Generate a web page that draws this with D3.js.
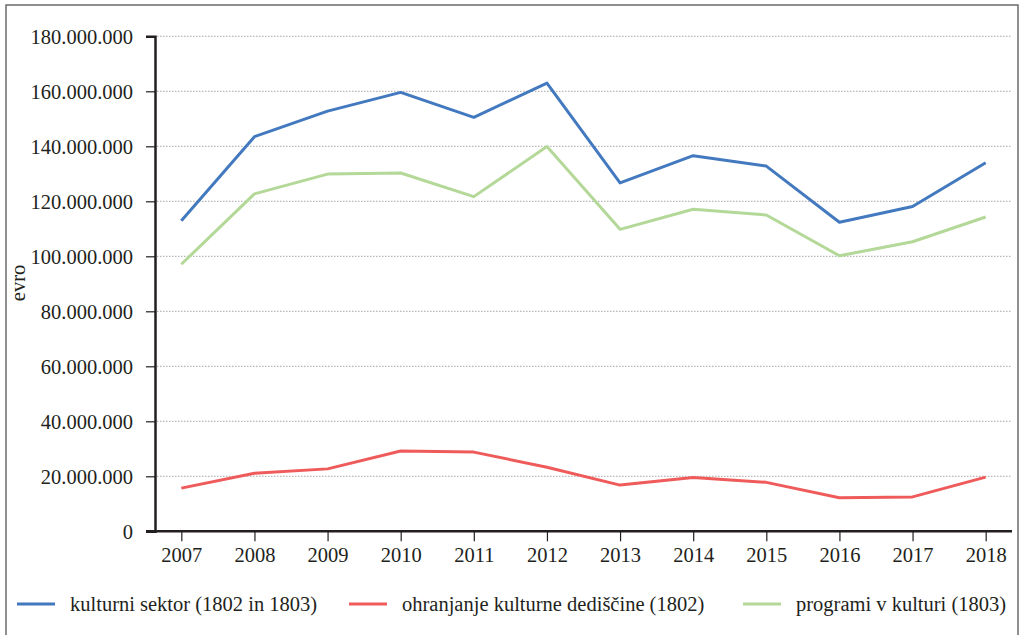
<!DOCTYPE html>
<html>
<head>
<meta charset="utf-8">
<script src="https://cdn.jsdelivr.net/npm/d3@7"></script>
<style>
  body { margin: 0; background: #fff; }
  svg text { font-family: "Liberation Serif", "DejaVu Serif", serif; fill: #231f20; }
</style>
</head>
<body>
<div id="chart"></div>
<script>
const WIDTH = 1022;
const HEIGHT = 635;
const LEFT = 155;
const RIGHT = 1012;
const TOP = 36.3;
const BOTTOM = 531.3;
const FONT = 20.5;
const SERIF = '"Liberation Serif", "DejaVu Serif", serif';

const years = ['2007', '2008', '2009', '2010', '2011', '2012', '2013', '2014', '2015', '2016', '2017', '2018'];
const kulturniSektor = [112.9, 143.5, 152.8, 159.6, 150.5, 163.0, 126.7, 136.6, 132.8, 112.4, 118.1, 134.0];
const ohranjanje = [15.7, 21.1, 22.7, 29.2, 28.8, 23.3, 16.8, 19.6, 17.8, 12.2, 12.5, 19.7];
const programi = [97.1, 122.7, 129.9, 130.3, 121.7, 139.9, 109.8, 117.1, 115.0, 100.2, 105.3, 114.3];
const yTicks = [0, 20, 40, 60, 80, 100, 120, 140, 160, 180];
const seriesNames = ['kulturni sektor (1802 in 1803)', 'ohranjanje kulturne dediščine (1802)', 'programi v kulturi (1803)'];
const seriesColors = ['#4379bf', '#ef5b5b', '#b3d898'];

let svg = d3.select('#chart').append('svg')
  .attr('width', WIDTH)
  .attr('height', HEIGHT)
  .attr('font-family', SERIF);

// outer frame
svg.append('rect')
  .attr('x', 6).attr('y', 5)
  .attr('width', 1012).attr('height', 640)
  .attr('fill', 'none')
  .attr('stroke', '#6b6b6b')
  .attr('stroke-width', 1.5);

let x = d3.scalePoint().domain(years).range([LEFT, RIGHT]).padding(0.36);
let y = d3.scaleLinear().domain([0, 180]).range([BOTTOM, TOP]);

let fmt = (v) => v === 0 ? '0' : d3.format(',')(v * 1e6).replace(/,/g, '.');

// grid
svg.append('g').selectAll('line')
  .data(yTicks.filter((t) => t > 0))
  .enter()
  .append('line')
  .attr('x1', LEFT + 2).attr('x2', RIGHT)
  .attr('y1', (d) => y(d)).attr('y2', (d) => y(d))
  .attr('stroke', '#a6a6a6')
  .attr('stroke-width', 1)
  .attr('stroke-dasharray', '1.5,1.5');

// y axis
let yAxis = svg.append('g')
  .attr('transform', `translate(${LEFT},0)`)
  .call(d3.axisLeft(y).tickValues(yTicks).tickFormat(fmt).tickSize(9).tickPadding(13))
  .attr('font-family', SERIF);
yAxis.select('.domain').attr('stroke', '#231f20').attr('stroke-width', 2.5);
yAxis.selectAll('.tick line').attr('stroke', '#231f20').attr('stroke-width', 1.2);
yAxis.selectAll('.tick text').attr('font-size', FONT).attr('dy', '0.35em');

// x axis
let xAxis = svg.append('g')
  .attr('transform', `translate(0,${BOTTOM})`)
  .call(d3.axisBottom(x).tickSizeInner(10).tickSizeOuter(0).tickPadding(6))
  .attr('font-family', SERIF);
xAxis.select('.domain').attr('stroke', '#231f20').attr('stroke-width', 2.5)
  .attr('d', `M${LEFT - 9},0H${RIGHT}`);
xAxis.selectAll('.tick line').attr('stroke', '#231f20').attr('stroke-width', 1.2);
xAxis.selectAll('.tick text').attr('font-size', FONT);

svg.selectAll('.tick text').attr('fill', '#231f20');

// y label
svg.append('text')
  .attr('transform', 'translate(25,283) rotate(-90)')
  .attr('text-anchor', 'middle')
  .attr('font-size', FONT)
  .text('evro');

// lines
let line = d3.line()
  .x((d, i) => x(years[i]))
  .y((d) => y(d));

svg.append('g').selectAll('path')
  .data([kulturniSektor, ohranjanje, programi])
  .enter()
  .append('path')
  .attr('d', line)
  .attr('fill', 'none')
  .attr('stroke', (d, i) => seriesColors[i])
  .attr('stroke-width', 3)
  .attr('stroke-linejoin', 'round');

// legend
let legendX = [17, 349, 743];
let legend = svg.append('g').selectAll('g')
  .data(seriesNames)
  .enter()
  .append('g')
  .attr('transform', (d, i) => `translate(${legendX[i]},604)`);

legend.append('line')
  .attr('x1', 0).attr('x2', 38)
  .attr('stroke', (d, i) => seriesColors[i])
  .attr('stroke-width', 3);

legend.append('text')
  .attr('x', 53)
  .attr('dy', '0.32em')
  .attr('font-size', FONT)
  .text((d) => d);
</script>
</body>
</html>
